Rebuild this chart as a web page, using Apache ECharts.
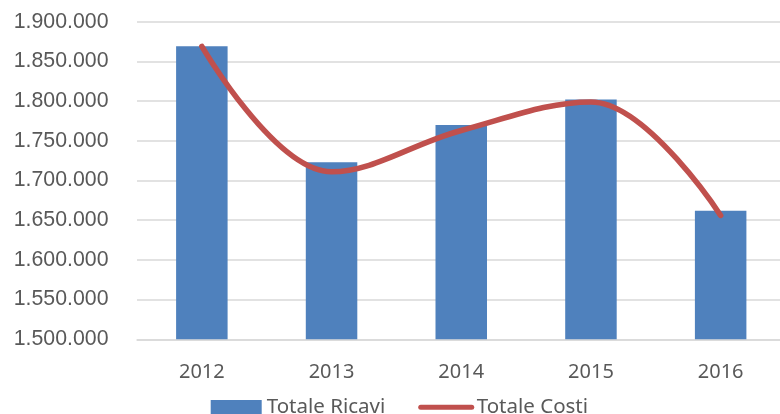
<!DOCTYPE html>
<html>
<head>
<meta charset="utf-8">
<script src="https://cdn.jsdelivr.net/npm/echarts@6/dist/echarts.min.js"></script>
<style>
html,body{margin:0;padding:0;background:#fff;}
#chart{width:780px;height:414px;}
</style>
</head>
<body>
<div id="chart"></div>
<script>
const categories = ['2012', '2013', '2014', '2015', '2016'];
const totaleRicavi = [1869000, 1723000, 1770000, 1802000, 1662000];
const totaleCosti = [1869000, 1711000, 1763000, 1799000, 1656000];
const yMin = 1500000;
const yMax = 1900000;
const yInterval = 50000;

function fmtIt(v) {
  return String(Math.round(v)).replace(/\B(?=(\d{3})+(?!\d))/g, '.');
}

const chart = echarts.init(document.getElementById('chart'), null, {renderer: 'canvas'});
chart.setOption({
  animation: false,
  backgroundColor: '#ffffff',
  grid: {left: 137, top: 21.7, right: -5.5, bottom: 74.7, containLabel: false, outerBoundsMode: 'none'},
  legend: {
    left: 210.7, top: 396.7, padding: 0,
    itemWidth: 51, itemHeight: 14.3, itemGap: 33,
    textStyle: {fontFamily: 'Noto Sans', fontSize: 20.5, color: '#595959'},
    data: [
      {name: 'Totale Ricavi', icon: 'rect'},
      {name: 'Totale Costi', itemStyle: {opacity: 0}, lineStyle: {width: 5, cap: 'round', color: '#C0504D'}}
    ]
  },
  xAxis: {
    type: 'category',
    data: categories,
    axisLine: {lineStyle: {color: '#d9d9d9', width: 1.5}},
    axisTick: {show: false},
    axisLabel: {fontFamily: 'Noto Sans', fontSize: 20, color: '#595959', margin: 22.5}
  },
  yAxis: {
    type: 'value',
    min: yMin, max: yMax, interval: yInterval,
    axisLine: {show: false},
    axisTick: {show: false},
    splitLine: {lineStyle: {color: '#d9d9d9', width: 1.5}},
    axisLabel: {fontFamily: 'Liberation Sans', fontSize: 21.3, color: '#595959', margin: 28.5, formatter: fmtIt}
  },
  series: [
    {
      name: 'Totale Ricavi', type: 'bar', data: totaleRicavi,
      barWidth: 51.5,
      itemStyle: {color: '#4F81BD'}
    },
    {
      name: 'Totale Costi', type: 'line', data: totaleCosti,
      smooth: 0.38, symbol: 'none',
      lineStyle: {color: '#C0504D', width: 5.5, cap: 'round', join: 'round'},
      itemStyle: {color: '#C0504D'}
    }
  ]
});
</script>
</body>
</html>
